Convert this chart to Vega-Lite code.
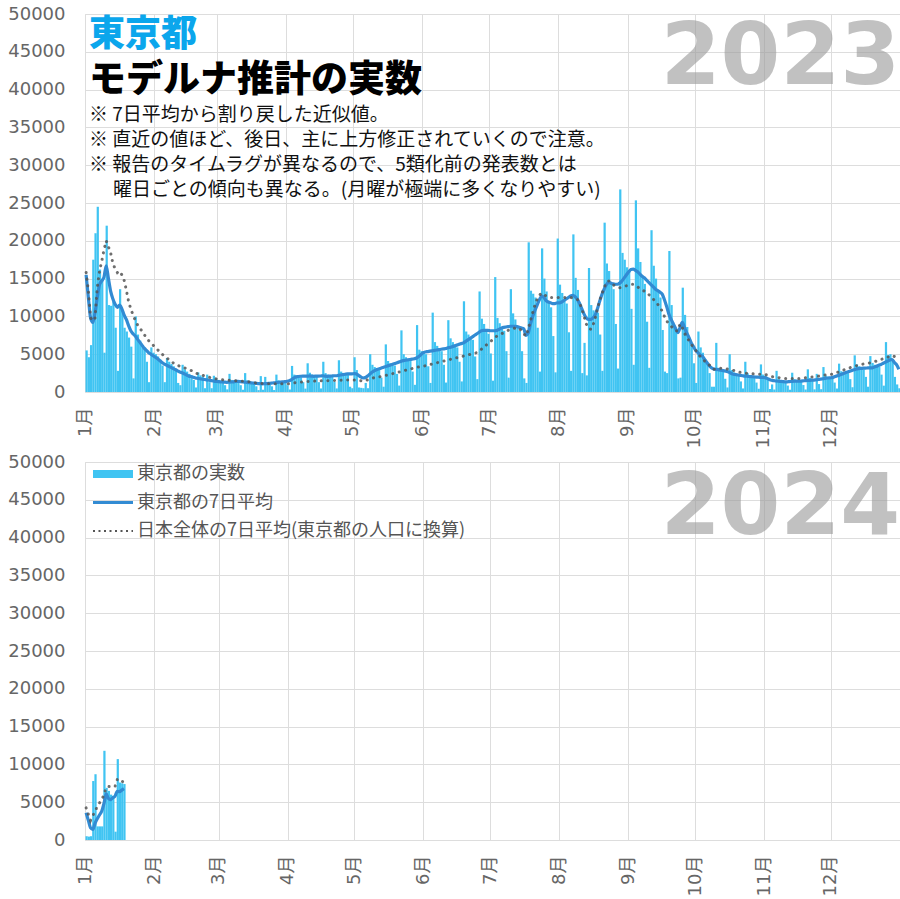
{
  "$schema": "https://vega.github.io/schema/vega-lite/v6.json",
  "background": "#ffffff",
  "padding": {"left": 7, "top": 4, "right": 1, "bottom": 0},
  "spacing": 3,
  "resolve": {"scale": {"x": "independent", "color": "independent"}, "legend": {"color": "independent"}},
  "config": {
    "font": "DejaVu Sans, Noto Sans CJK JP, sans-serif",
    "view": {"stroke": "#dddddd"},
    "axis": {"domain": false, "ticks": false, "gridColor": "#dddddd", "gridWidth": 1, "labelColor": "#666666", "title": null, "labelOverlap": false, "labelFont": "DejaVu Sans, Noto Sans CJK JP, sans-serif"},
    "axisY": {"labelFontSize": 18, "labelPadding": 20, "tickCount": 12},
    "axisX": {"labelFontSize": 18, "labelPadding": 15, "labelAngle": -90}
  },
  "vconcat": [
    {
      "width": 815,
      "height": 378,
      "data": {"values": [
        {"d":"2023-01-01","v":5500,"a":15500,"n":15800},
        {"d":"2023-01-02","v":4600,"a":12500,"n":13400},
        {"d":"2023-01-03","v":6200,"a":9800,"n":9800},
        {"d":"2023-01-04","v":17500,"a":9200,"n":9400},
        {"d":"2023-01-05","v":21000,"a":10500,"n":9800},
        {"d":"2023-01-06","v":24500,"a":12500,"n":13800},
        {"d":"2023-01-07","v":16200,"a":14200,"n":16000},
        {"d":"2023-01-08","v":14800,"a":14700,"n":17300},
        {"d":"2023-01-09","v":5200,"a":15200,"n":18800},
        {"d":"2023-01-10","v":22000,"a":16700,"n":20000},
        {"d":"2023-01-11","v":11500,"a":15000,"n":19200},
        {"d":"2023-01-12","v":11400,"a":13300,"n":18400},
        {"d":"2023-01-13","v":12000,"a":12300,"n":17000},
        {"d":"2023-01-14","v":8500,"a":11600,"n":16300},
        {"d":"2023-01-15","v":2800,"a":11200,"n":15800},
        {"d":"2023-01-16","v":13600,"a":11500,"n":16000},
        {"d":"2023-01-17","v":10700,"a":11000,"n":15500},
        {"d":"2023-01-18","v":8500,"a":10200,"n":14800},
        {"d":"2023-01-19","v":8000,"a":9600,"n":13500},
        {"d":"2023-01-20","v":7200,"a":8800,"n":12000},
        {"d":"2023-01-21","v":6000,"a":8100,"n":11000},
        {"d":"2023-01-22","v":1800,"a":7700,"n":10200},
        {"d":"2023-01-23","v":10000,"a":7400,"n":9500},
        {"d":"2023-01-24","v":7600,"a":7000,"n":8900},
        {"d":"2023-01-25","v":6800,"a":6600,"n":8400},
        {"d":"2023-01-26","v":6200,"a":6200,"n":8100},
        {"d":"2023-01-27","v":5600,"a":5800,"n":7600},
        {"d":"2023-01-28","v":4000,"a":5500,"n":7200},
        {"d":"2023-01-29","v":1300,"a":5200,"n":6800},
        {"d":"2023-01-30","v":5900,"a":5000,"n":6500},
        {"d":"2023-01-31","v":5200,"a":4800,"n":6200},
        {"d":"2023-02-01","v":5000,"a":4600,"n":5900},
        {"d":"2023-02-02","v":4700,"a":4400,"n":5600},
        {"d":"2023-02-03","v":4300,"a":4150,"n":5300},
        {"d":"2023-02-04","v":3500,"a":3900,"n":5000},
        {"d":"2023-02-05","v":1300,"a":3700,"n":4800},
        {"d":"2023-02-06","v":4500,"a":3550,"n":4550},
        {"d":"2023-02-07","v":4000,"a":3400,"n":4300},
        {"d":"2023-02-08","v":3700,"a":3250,"n":4100},
        {"d":"2023-02-09","v":3400,"a":3100,"n":3850},
        {"d":"2023-02-10","v":3100,"a":2950,"n":3650},
        {"d":"2023-02-11","v":1200,"a":2800,"n":3550},
        {"d":"2023-02-12","v":900,"a":2650,"n":3400},
        {"d":"2023-02-13","v":3600,"a":2550,"n":3300},
        {"d":"2023-02-14","v":3000,"a":2400,"n":3200},
        {"d":"2023-02-15","v":2700,"a":2250,"n":3100},
        {"d":"2023-02-16","v":2400,"a":2100,"n":3000},
        {"d":"2023-02-17","v":2200,"a":2050,"n":2850},
        {"d":"2023-02-18","v":1600,"a":1950,"n":2700},
        {"d":"2023-02-19","v":600,"a":1850,"n":2550},
        {"d":"2023-02-20","v":2600,"a":1800,"n":2400},
        {"d":"2023-02-21","v":2200,"a":1750,"n":2300},
        {"d":"2023-02-22","v":2000,"a":1700,"n":2200},
        {"d":"2023-02-23","v":500,"a":1650,"n":2150},
        {"d":"2023-02-24","v":2300,"a":1600,"n":2050},
        {"d":"2023-02-25","v":1300,"a":1550,"n":1950},
        {"d":"2023-02-26","v":500,"a":1500,"n":1900},
        {"d":"2023-02-27","v":2150,"a":1450,"n":1800},
        {"d":"2023-02-28","v":1800,"a":1400,"n":1750},
        {"d":"2023-03-01","v":1600,"a":1380,"n":1700},
        {"d":"2023-03-02","v":1450,"a":1350,"n":1650},
        {"d":"2023-03-03","v":1350,"a":1330,"n":1620},
        {"d":"2023-03-04","v":900,"a":1300,"n":1600},
        {"d":"2023-03-05","v":350,"a":1280,"n":1570},
        {"d":"2023-03-06","v":2400,"a":1300,"n":1550},
        {"d":"2023-03-07","v":1600,"a":1320,"n":1520},
        {"d":"2023-03-08","v":1500,"a":1350,"n":1500},
        {"d":"2023-03-09","v":1400,"a":1400,"n":1480},
        {"d":"2023-03-10","v":1350,"a":1400,"n":1460},
        {"d":"2023-03-11","v":900,"a":1380,"n":1440},
        {"d":"2023-03-12","v":300,"a":1350,"n":1420},
        {"d":"2023-03-13","v":2500,"a":1300,"n":1400},
        {"d":"2023-03-14","v":1550,"a":1280,"n":1380},
        {"d":"2023-03-15","v":1400,"a":1250,"n":1350},
        {"d":"2023-03-16","v":1250,"a":1200,"n":1300},
        {"d":"2023-03-17","v":1150,"a":1180,"n":1250},
        {"d":"2023-03-18","v":750,"a":1150,"n":1200},
        {"d":"2023-03-19","v":250,"a":1120,"n":1170},
        {"d":"2023-03-20","v":2100,"a":1100,"n":1150},
        {"d":"2023-03-21","v":300,"a":1080,"n":1130},
        {"d":"2023-03-22","v":2000,"a":1100,"n":1120},
        {"d":"2023-03-23","v":1200,"a":1120,"n":1110},
        {"d":"2023-03-24","v":1100,"a":1150,"n":1100},
        {"d":"2023-03-25","v":750,"a":1180,"n":1100},
        {"d":"2023-03-26","v":260,"a":1200,"n":1100},
        {"d":"2023-03-27","v":2300,"a":1250,"n":1100},
        {"d":"2023-03-28","v":1550,"a":1280,"n":1100},
        {"d":"2023-03-29","v":1450,"a":1300,"n":1100},
        {"d":"2023-03-30","v":1350,"a":1330,"n":1100},
        {"d":"2023-03-31","v":1300,"a":1370,"n":1100},
        {"d":"2023-04-01","v":900,"a":1420,"n":1100},
        {"d":"2023-04-02","v":330,"a":1500,"n":1100},
        {"d":"2023-04-03","v":3450,"a":1650,"n":1150},
        {"d":"2023-04-04","v":2300,"a":1850,"n":1200},
        {"d":"2023-04-05","v":2200,"a":2000,"n":1250},
        {"d":"2023-04-06","v":2050,"a":2050,"n":1280},
        {"d":"2023-04-07","v":1950,"a":2080,"n":1300},
        {"d":"2023-04-08","v":1300,"a":2100,"n":1330},
        {"d":"2023-04-09","v":450,"a":2100,"n":1360},
        {"d":"2023-04-10","v":3800,"a":2100,"n":1380},
        {"d":"2023-04-11","v":2550,"a":2120,"n":1400},
        {"d":"2023-04-12","v":2300,"a":2100,"n":1420},
        {"d":"2023-04-13","v":2100,"a":2080,"n":1440},
        {"d":"2023-04-14","v":2000,"a":2100,"n":1450},
        {"d":"2023-04-15","v":1300,"a":2100,"n":1460},
        {"d":"2023-04-16","v":470,"a":2120,"n":1470},
        {"d":"2023-04-17","v":4000,"a":2150,"n":1480},
        {"d":"2023-04-18","v":2500,"a":2100,"n":1490},
        {"d":"2023-04-19","v":2300,"a":2080,"n":1500},
        {"d":"2023-04-20","v":2100,"a":2100,"n":1510},
        {"d":"2023-04-21","v":2000,"a":2120,"n":1520},
        {"d":"2023-04-22","v":1350,"a":2150,"n":1530},
        {"d":"2023-04-23","v":470,"a":2150,"n":1540},
        {"d":"2023-04-24","v":4200,"a":2200,"n":1550},
        {"d":"2023-04-25","v":2700,"a":2250,"n":1560},
        {"d":"2023-04-26","v":2500,"a":2300,"n":1570},
        {"d":"2023-04-27","v":2350,"a":2350,"n":1580},
        {"d":"2023-04-28","v":2300,"a":2400,"n":1590},
        {"d":"2023-04-29","v":700,"a":2400,"n":1600},
        {"d":"2023-04-30","v":500,"a":2400,"n":1600},
        {"d":"2023-05-01","v":4600,"a":2420,"n":1600},
        {"d":"2023-05-02","v":2900,"a":2400,"n":1600},
        {"d":"2023-05-03","v":600,"a":2200,"n":1550},
        {"d":"2023-05-04","v":550,"a":2000,"n":1500},
        {"d":"2023-05-05","v":500,"a":1850,"n":1450},
        {"d":"2023-05-06","v":1200,"a":1900,"n":1500},
        {"d":"2023-05-07","v":500,"a":2100,"n":1600},
        {"d":"2023-05-08","v":5000,"a":2350,"n":1700},
        {"d":"2023-05-09","v":3600,"a":2600,"n":1800},
        {"d":"2023-05-10","v":3300,"a":2800,"n":1900},
        {"d":"2023-05-11","v":3000,"a":2950,"n":1950},
        {"d":"2023-05-12","v":2900,"a":3050,"n":2000},
        {"d":"2023-05-13","v":1900,"a":3150,"n":2050},
        {"d":"2023-05-14","v":700,"a":3250,"n":2100},
        {"d":"2023-05-15","v":6300,"a":3350,"n":2180},
        {"d":"2023-05-16","v":4100,"a":3450,"n":2250},
        {"d":"2023-05-17","v":3800,"a":3550,"n":2330},
        {"d":"2023-05-18","v":3600,"a":3650,"n":2400},
        {"d":"2023-05-19","v":3500,"a":3750,"n":2480},
        {"d":"2023-05-20","v":2400,"a":3850,"n":2550},
        {"d":"2023-05-21","v":850,"a":3950,"n":2630},
        {"d":"2023-05-22","v":8150,"a":4050,"n":2700},
        {"d":"2023-05-23","v":5000,"a":4150,"n":2800},
        {"d":"2023-05-24","v":4600,"a":4200,"n":2870},
        {"d":"2023-05-25","v":4250,"a":4250,"n":2950},
        {"d":"2023-05-26","v":4100,"a":4300,"n":3020},
        {"d":"2023-05-27","v":2700,"a":4350,"n":3100},
        {"d":"2023-05-28","v":950,"a":4400,"n":3170},
        {"d":"2023-05-29","v":8850,"a":4500,"n":3250},
        {"d":"2023-05-30","v":5600,"a":4700,"n":3320},
        {"d":"2023-05-31","v":5400,"a":4950,"n":3380},
        {"d":"2023-06-01","v":5200,"a":5200,"n":3400},
        {"d":"2023-06-02","v":5000,"a":5300,"n":3480},
        {"d":"2023-06-03","v":3400,"a":5350,"n":3550},
        {"d":"2023-06-04","v":1200,"a":5400,"n":3620},
        {"d":"2023-06-05","v":10500,"a":5450,"n":3700},
        {"d":"2023-06-06","v":6600,"a":5500,"n":3780},
        {"d":"2023-06-07","v":6100,"a":5550,"n":3850},
        {"d":"2023-06-08","v":5600,"a":5600,"n":3930},
        {"d":"2023-06-09","v":5400,"a":5650,"n":4000},
        {"d":"2023-06-10","v":3600,"a":5700,"n":4080},
        {"d":"2023-06-11","v":1250,"a":5750,"n":4150},
        {"d":"2023-06-12","v":9500,"a":5850,"n":4230},
        {"d":"2023-06-13","v":7100,"a":5900,"n":4300},
        {"d":"2023-06-14","v":6600,"a":6000,"n":4380},
        {"d":"2023-06-15","v":6100,"a":6100,"n":4450},
        {"d":"2023-06-16","v":5900,"a":6200,"n":4530},
        {"d":"2023-06-17","v":4000,"a":6300,"n":4600},
        {"d":"2023-06-18","v":1400,"a":6400,"n":4680},
        {"d":"2023-06-19","v":12000,"a":6500,"n":4750},
        {"d":"2023-06-20","v":8000,"a":6700,"n":4830},
        {"d":"2023-06-21","v":7600,"a":6900,"n":4900},
        {"d":"2023-06-22","v":7100,"a":7100,"n":4980},
        {"d":"2023-06-23","v":6900,"a":7300,"n":5050},
        {"d":"2023-06-24","v":4700,"a":7500,"n":5130},
        {"d":"2023-06-25","v":1700,"a":7700,"n":5200},
        {"d":"2023-06-26","v":13300,"a":7900,"n":5400},
        {"d":"2023-06-27","v":9700,"a":8100,"n":5650},
        {"d":"2023-06-28","v":9000,"a":8150,"n":5900},
        {"d":"2023-06-29","v":8150,"a":8150,"n":6150},
        {"d":"2023-06-30","v":7700,"a":8150,"n":6400},
        {"d":"2023-07-01","v":5100,"a":8100,"n":6650},
        {"d":"2023-07-02","v":1500,"a":8100,"n":6900},
        {"d":"2023-07-03","v":15200,"a":8100,"n":7150},
        {"d":"2023-07-04","v":9800,"a":8150,"n":7400},
        {"d":"2023-07-05","v":9100,"a":8300,"n":7550},
        {"d":"2023-07-06","v":8450,"a":8450,"n":7700},
        {"d":"2023-07-07","v":8100,"a":8550,"n":7850},
        {"d":"2023-07-08","v":5400,"a":8600,"n":8000},
        {"d":"2023-07-09","v":1900,"a":8650,"n":8150},
        {"d":"2023-07-10","v":13600,"a":8700,"n":8250},
        {"d":"2023-07-11","v":10400,"a":8700,"n":8350},
        {"d":"2023-07-12","v":9600,"a":8700,"n":8450},
        {"d":"2023-07-13","v":8650,"a":8650,"n":8500},
        {"d":"2023-07-14","v":8100,"a":8550,"n":8400},
        {"d":"2023-07-15","v":5400,"a":8450,"n":8100},
        {"d":"2023-07-16","v":1800,"a":8350,"n":7700},
        {"d":"2023-07-17","v":1200,"a":7500,"n":7400},
        {"d":"2023-07-18","v":19800,"a":7800,"n":8300},
        {"d":"2023-07-19","v":13400,"a":9000,"n":9400},
        {"d":"2023-07-20","v":13000,"a":10000,"n":10500},
        {"d":"2023-07-21","v":12500,"a":10800,"n":11500},
        {"d":"2023-07-22","v":8500,"a":11500,"n":12300},
        {"d":"2023-07-23","v":2700,"a":12200,"n":12800},
        {"d":"2023-07-24","v":19000,"a":12700,"n":13100},
        {"d":"2023-07-25","v":15000,"a":12500,"n":12900},
        {"d":"2023-07-26","v":13300,"a":12100,"n":12700},
        {"d":"2023-07-27","v":11900,"a":11900,"n":12600},
        {"d":"2023-07-28","v":11200,"a":11800,"n":12500},
        {"d":"2023-07-29","v":7400,"a":11700,"n":12500},
        {"d":"2023-07-30","v":2600,"a":11700,"n":12500},
        {"d":"2023-07-31","v":20300,"a":11800,"n":12500},
        {"d":"2023-08-01","v":14200,"a":11800,"n":12500},
        {"d":"2023-08-02","v":13100,"a":11900,"n":12500},
        {"d":"2023-08-03","v":12100,"a":12100,"n":12500},
        {"d":"2023-08-04","v":11700,"a":12300,"n":12500},
        {"d":"2023-08-05","v":7900,"a":12500,"n":12500},
        {"d":"2023-08-06","v":2800,"a":12700,"n":12500},
        {"d":"2023-08-07","v":20850,"a":12800,"n":12450},
        {"d":"2023-08-08","v":15100,"a":12600,"n":12350},
        {"d":"2023-08-09","v":13500,"a":12250,"n":12250},
        {"d":"2023-08-10","v":11700,"a":11700,"n":11800},
        {"d":"2023-08-11","v":2500,"a":11000,"n":11000},
        {"d":"2023-08-12","v":6500,"a":10300,"n":10000},
        {"d":"2023-08-13","v":2200,"a":9800,"n":9000},
        {"d":"2023-08-14","v":16400,"a":9600,"n":8400},
        {"d":"2023-08-15","v":11500,"a":9600,"n":8300},
        {"d":"2023-08-16","v":10800,"a":9800,"n":8800},
        {"d":"2023-08-17","v":10200,"a":10200,"n":9800},
        {"d":"2023-08-18","v":10500,"a":11000,"n":11000},
        {"d":"2023-08-19","v":7600,"a":12000,"n":12100},
        {"d":"2023-08-20","v":2800,"a":12900,"n":13000},
        {"d":"2023-08-21","v":22400,"a":13600,"n":13800},
        {"d":"2023-08-22","v":17000,"a":14200,"n":14500},
        {"d":"2023-08-23","v":16000,"a":14500,"n":14700},
        {"d":"2023-08-24","v":14400,"a":14400,"n":14500},
        {"d":"2023-08-25","v":13600,"a":14300,"n":14200},
        {"d":"2023-08-26","v":9000,"a":14250,"n":14000},
        {"d":"2023-08-27","v":3100,"a":14250,"n":13900},
        {"d":"2023-08-28","v":26800,"a":14400,"n":13800},
        {"d":"2023-08-29","v":18400,"a":14700,"n":13850},
        {"d":"2023-08-30","v":17500,"a":15100,"n":13950},
        {"d":"2023-08-31","v":16500,"a":15500,"n":14050},
        {"d":"2023-09-01","v":16000,"a":15900,"n":14150},
        {"d":"2023-09-02","v":11000,"a":16200,"n":14250},
        {"d":"2023-09-03","v":3600,"a":16250,"n":14250},
        {"d":"2023-09-04","v":25350,"a":16100,"n":14100},
        {"d":"2023-09-05","v":19000,"a":15900,"n":13900},
        {"d":"2023-09-06","v":17200,"a":15600,"n":13700},
        {"d":"2023-09-07","v":15300,"a":15300,"n":13500},
        {"d":"2023-09-08","v":14300,"a":15100,"n":13350},
        {"d":"2023-09-09","v":9300,"a":14800,"n":13200},
        {"d":"2023-09-10","v":3200,"a":14500,"n":12900},
        {"d":"2023-09-11","v":21400,"a":14200,"n":12600},
        {"d":"2023-09-12","v":16700,"a":13900,"n":12300},
        {"d":"2023-09-13","v":15000,"a":13600,"n":11900},
        {"d":"2023-09-14","v":13400,"a":13400,"n":11600},
        {"d":"2023-09-15","v":12500,"a":13200,"n":11200},
        {"d":"2023-09-16","v":8200,"a":12950,"n":10700},
        {"d":"2023-09-17","v":2700,"a":12200,"n":10000},
        {"d":"2023-09-18","v":2500,"a":11300,"n":9400},
        {"d":"2023-09-19","v":18650,"a":10300,"n":9000},
        {"d":"2023-09-20","v":11500,"a":9600,"n":8700},
        {"d":"2023-09-21","v":9000,"a":9000,"n":8400},
        {"d":"2023-09-22","v":8000,"a":8400,"n":8100},
        {"d":"2023-09-23","v":1800,"a":7850,"n":8100},
        {"d":"2023-09-24","v":1900,"a":8500,"n":9000},
        {"d":"2023-09-25","v":13800,"a":9200,"n":8500},
        {"d":"2023-09-26","v":10200,"a":8500,"n":7800},
        {"d":"2023-09-27","v":8600,"a":7800,"n":7200},
        {"d":"2023-09-28","v":7200,"a":7200,"n":6800},
        {"d":"2023-09-29","v":6200,"a":6500,"n":6300},
        {"d":"2023-09-30","v":3800,"a":6000,"n":5900},
        {"d":"2023-10-01","v":1200,"a":5500,"n":5500},
        {"d":"2023-10-02","v":8000,"a":5200,"n":5100},
        {"d":"2023-10-03","v":5900,"a":4900,"n":4700},
        {"d":"2023-10-04","v":5200,"a":4750,"n":4400},
        {"d":"2023-10-05","v":4300,"a":4300,"n":4100},
        {"d":"2023-10-06","v":3700,"a":3900,"n":3900},
        {"d":"2023-10-07","v":2500,"a":3500,"n":3600},
        {"d":"2023-10-08","v":700,"a":3200,"n":3300},
        {"d":"2023-10-09","v":700,"a":3050,"n":3000},
        {"d":"2023-10-10","v":6500,"a":3000,"n":3050},
        {"d":"2023-10-11","v":3200,"a":2950,"n":3100},
        {"d":"2023-10-12","v":2900,"a":2900,"n":3150},
        {"d":"2023-10-13","v":2700,"a":2850,"n":3150},
        {"d":"2023-10-14","v":1750,"a":2800,"n":3100},
        {"d":"2023-10-15","v":600,"a":2700,"n":3050},
        {"d":"2023-10-16","v":5000,"a":2600,"n":3000},
        {"d":"2023-10-17","v":2900,"a":2450,"n":2950},
        {"d":"2023-10-18","v":2600,"a":2350,"n":2850},
        {"d":"2023-10-19","v":2300,"a":2300,"n":2750},
        {"d":"2023-10-20","v":2150,"a":2250,"n":2650},
        {"d":"2023-10-21","v":1400,"a":2200,"n":2600},
        {"d":"2023-10-22","v":470,"a":2150,"n":2550},
        {"d":"2023-10-23","v":4000,"a":2100,"n":2500},
        {"d":"2023-10-24","v":2500,"a":2080,"n":2470},
        {"d":"2023-10-25","v":2250,"a":2050,"n":2440},
        {"d":"2023-10-26","v":2050,"a":2030,"n":2420},
        {"d":"2023-10-27","v":1900,"a":2000,"n":2400},
        {"d":"2023-10-28","v":1250,"a":1980,"n":2380},
        {"d":"2023-10-29","v":430,"a":1960,"n":2360},
        {"d":"2023-10-30","v":3650,"a":1940,"n":2340},
        {"d":"2023-10-31","v":2300,"a":1920,"n":2320},
        {"d":"2023-11-01","v":2100,"a":1900,"n":2300},
        {"d":"2023-11-02","v":1800,"a":1800,"n":2250},
        {"d":"2023-11-03","v":400,"a":1650,"n":2150},
        {"d":"2023-11-04","v":1000,"a":1550,"n":2050},
        {"d":"2023-11-05","v":330,"a":1500,"n":2000},
        {"d":"2023-11-06","v":2800,"a":1450,"n":1950},
        {"d":"2023-11-07","v":1700,"a":1420,"n":1900},
        {"d":"2023-11-08","v":1550,"a":1400,"n":1870},
        {"d":"2023-11-09","v":1400,"a":1380,"n":1840},
        {"d":"2023-11-10","v":1300,"a":1350,"n":1800},
        {"d":"2023-11-11","v":850,"a":1350,"n":1800},
        {"d":"2023-11-12","v":300,"a":1380,"n":1800},
        {"d":"2023-11-13","v":2550,"a":1400,"n":1800},
        {"d":"2023-11-14","v":1700,"a":1420,"n":1800},
        {"d":"2023-11-15","v":1570,"a":1430,"n":1800},
        {"d":"2023-11-16","v":1440,"a":1440,"n":1800},
        {"d":"2023-11-17","v":1380,"a":1450,"n":1800},
        {"d":"2023-11-18","v":920,"a":1470,"n":1830},
        {"d":"2023-11-19","v":330,"a":1500,"n":1870},
        {"d":"2023-11-20","v":3000,"a":1520,"n":1900},
        {"d":"2023-11-21","v":1860,"a":1550,"n":1940},
        {"d":"2023-11-22","v":1730,"a":1570,"n":1980},
        {"d":"2023-11-23","v":350,"a":1580,"n":2000},
        {"d":"2023-11-24","v":2400,"a":1620,"n":2050},
        {"d":"2023-11-25","v":1050,"a":1650,"n":2100},
        {"d":"2023-11-26","v":370,"a":1700,"n":2150},
        {"d":"2023-11-27","v":3300,"a":1750,"n":2200},
        {"d":"2023-11-28","v":2150,"a":1800,"n":2250},
        {"d":"2023-11-29","v":2000,"a":1850,"n":2280},
        {"d":"2023-11-30","v":1880,"a":1880,"n":2320},
        {"d":"2023-12-01","v":1800,"a":1900,"n":2350},
        {"d":"2023-12-02","v":1250,"a":2000,"n":2450},
        {"d":"2023-12-03","v":460,"a":2100,"n":2550},
        {"d":"2023-12-04","v":3750,"a":2200,"n":2650},
        {"d":"2023-12-05","v":2750,"a":2300,"n":2750},
        {"d":"2023-12-06","v":2650,"a":2420,"n":2880},
        {"d":"2023-12-07","v":2550,"a":2550,"n":3000},
        {"d":"2023-12-08","v":2500,"a":2650,"n":3100},
        {"d":"2023-12-09","v":1700,"a":2750,"n":3200},
        {"d":"2023-12-10","v":630,"a":2850,"n":3300},
        {"d":"2023-12-11","v":4850,"a":2950,"n":3400},
        {"d":"2023-12-12","v":3650,"a":3050,"n":3480},
        {"d":"2023-12-13","v":3400,"a":3100,"n":3550},
        {"d":"2023-12-14","v":3100,"a":3120,"n":3620},
        {"d":"2023-12-15","v":3000,"a":3150,"n":3700},
        {"d":"2023-12-16","v":2000,"a":3170,"n":3750},
        {"d":"2023-12-17","v":700,"a":3180,"n":3800},
        {"d":"2023-12-18","v":4750,"a":3190,"n":3850},
        {"d":"2023-12-19","v":3850,"a":3200,"n":3900},
        {"d":"2023-12-20","v":3600,"a":3300,"n":4000},
        {"d":"2023-12-21","v":3400,"a":3400,"n":4100},
        {"d":"2023-12-22","v":3400,"a":3550,"n":4200},
        {"d":"2023-12-23","v":2300,"a":3650,"n":4300},
        {"d":"2023-12-24","v":840,"a":3800,"n":4400},
        {"d":"2023-12-25","v":6600,"a":3950,"n":4450},
        {"d":"2023-12-26","v":4900,"a":4100,"n":4600},
        {"d":"2023-12-27","v":5000,"a":4250,"n":4750},
        {"d":"2023-12-28","v":4300,"a":4300,"n":4850},
        {"d":"2023-12-29","v":2000,"a":3900,"n":4700},
        {"d":"2023-12-30","v":1000,"a":3600,"n":4500},
        {"d":"2023-12-31","v":500,"a":3000,"n":4200}
      ]},
      "layer": [
        {
          "mark": {"type": "bar", "color": "#40c4f2", "binSpacing": 0},
          "encoding": {
            "x": {
              "field": "d", "type": "temporal", "timeUnit": "utcyearmonthdate",
              "scale": {"type": "utc", "nice": false, "domain": [{"year": 2023, "month": 1, "date": 1, "utc": true}, {"year": 2024, "month": 1, "date": 1, "utc": true}]},
              "axis": {
                "values": [
                  {"year": 2023, "month": 1, "date": 1, "utc": true}, {"year": 2023, "month": 2, "date": 1, "utc": true},
                  {"year": 2023, "month": 3, "date": 1, "utc": true}, {"year": 2023, "month": 4, "date": 1, "utc": true},
                  {"year": 2023, "month": 5, "date": 1, "utc": true}, {"year": 2023, "month": 6, "date": 1, "utc": true},
                  {"year": 2023, "month": 7, "date": 1, "utc": true}, {"year": 2023, "month": 8, "date": 1, "utc": true},
                  {"year": 2023, "month": 9, "date": 1, "utc": true}, {"year": 2023, "month": 10, "date": 1, "utc": true},
                  {"year": 2023, "month": 11, "date": 1, "utc": true}, {"year": 2023, "month": 12, "date": 1, "utc": true}
                ],
                "labelExpr": "(utcmonth(datum.value) + 1) + '月'"
              }
            },
            "y": {
              "field": "v", "type": "quantitative",
              "scale": {"domain": [0, 50000], "nice": false},
              "axis": {"values": [0, 5000, 10000, 15000, 20000, 25000, 30000, 35000, 40000, 45000, 50000], "tickCount": 12, "format": "d", "labelOverlap": false}
            }
          }
        },
        {
          "mark": {"type": "line", "color": "#328bd3", "strokeWidth": 3.2, "interpolate": "monotone"},
          "encoding": {
            "x": {"field": "d", "type": "temporal", "timeUnit": "utcyearmonthdate", "bandPosition": 0.5},
            "y": {"field": "a", "type": "quantitative"}
          }
        },
        {
          "mark": {"type": "line", "color": "#555555", "opacity": 0.85, "strokeWidth": 3, "strokeDash": [0.1, 6.5], "strokeCap": "round"},
          "encoding": {
            "x": {"field": "d", "type": "temporal", "timeUnit": "utcyearmonthdate", "bandPosition": 0.5},
            "y": {"field": "n", "type": "quantitative"}
          }
        },
        {
          "data": {"values": [{}]},
          "mark": {"type": "text", "text": "2023", "font": "DejaVu Sans", "fontSize": 86, "fontWeight": "bold", "color": "#999999", "opacity": 0.6, "align": "right", "baseline": "alphabetic"},
          "encoding": {
            "x": {"datum": {"year": 2024, "month": 1, "date": 1, "hours": 1, "utc": true}, "type": "temporal"},
            "y": {"datum": 40700, "type": "quantitative"}
          }
        },
        {
          "data": {"values": [{}]},
          "mark": {"type": "text", "text": "東京都", "font": "Noto Sans CJK JP", "fontSize": 36, "fontWeight": 900, "color": "#0ba6ec", "align": "left", "baseline": "alphabetic"},
          "encoding": {
            "x": {"datum": {"year": 2023, "month": 1, "date": 2, "hours": 19, "utc": true}, "type": "temporal"},
            "y": {"datum": 45770, "type": "quantitative"}
          }
        },
        {
          "data": {"values": [{}]},
          "mark": {"type": "text", "text": "モデルナ推計の実数", "font": "Noto Sans CJK JP", "fontSize": 37, "fontWeight": 900, "color": "#000000", "align": "left", "baseline": "alphabetic"},
          "encoding": {
            "x": {"datum": {"year": 2023, "month": 1, "date": 2, "hours": 19, "utc": true}, "type": "temporal"},
            "y": {"datum": 39620, "type": "quantitative"}
          }
        },
        {
          "data": {"values": [{}]},
          "mark": {
            "type": "text",
            "text": ["※ 7日平均から割り戻した近似値。", "※ 直近の値ほど、後日、主に上方修正されていくので注意。", "※ 報告のタイムラグが異なるので、5類化前の発表数とは"],
            "lineHeight": 25, "font": "Noto Sans CJK JP", "fontSize": 19, "color": "#111111", "align": "left", "baseline": "alphabetic"
          },
          "encoding": {
            "x": {"datum": {"year": 2023, "month": 1, "date": 2, "hours": 19, "utc": true}, "type": "temporal"},
            "y": {"datum": 35910, "type": "quantitative"}
          }
        },
        {
          "data": {"values": [{}]},
          "mark": {"type": "text", "text": "曜日ごとの傾向も異なる。(月曜が極端に多くなりやすい)", "font": "Noto Sans CJK JP", "fontSize": 19, "color": "#111111", "align": "left", "baseline": "alphabetic"},
          "encoding": {
            "x": {"datum": {"year": 2023, "month": 1, "date": 13, "hours": 13, "utc": true}, "type": "temporal"},
            "y": {"datum": 25990, "type": "quantitative"}
          }
        }
      ]
    },
    {
      "width": 815,
      "height": 378,
      "data": {"values": [
        {"d":"2024-01-01","v":500,"a":3600,"n":4250},
        {"d":"2024-01-02","v":450,"a":2600,"n":3400},
        {"d":"2024-01-03","v":500,"a":1600,"n":2600},
        {"d":"2024-01-04","v":7800,"a":1400,"n":3200},
        {"d":"2024-01-05","v":8700,"a":2200,"n":3800},
        {"d":"2024-01-06","v":1800,"a":2800,"n":4400},
        {"d":"2024-01-07","v":1800,"a":3300,"n":4900},
        {"d":"2024-01-08","v":1800,"a":3800,"n":5300},
        {"d":"2024-01-09","v":11800,"a":4800,"n":6000},
        {"d":"2024-01-10","v":6900,"a":6100,"n":6900},
        {"d":"2024-01-11","v":6500,"a":5500,"n":7100},
        {"d":"2024-01-12","v":6000,"a":5350,"n":7050},
        {"d":"2024-01-13","v":5800,"a":5600,"n":7000},
        {"d":"2024-01-14","v":1100,"a":5800,"n":7100},
        {"d":"2024-01-15","v":10700,"a":6450,"n":8000},
        {"d":"2024-01-16","v":7600,"a":6400,"n":8100},
        {"d":"2024-01-17","v":7500,"a":6600,"n":7800},
        {"d":"2024-01-18","v":7400,"a":6800,"n":7600}
      ]},
      "layer": [
        {
          "mark": {"type": "bar", "binSpacing": 0},
          "encoding": {
            "x": {
              "field": "d", "type": "temporal", "timeUnit": "utcyearmonthdate",
              "scale": {"type": "utc", "nice": false, "domain": [{"year": 2024, "month": 1, "date": 1, "utc": true}, {"year": 2025, "month": 1, "date": 1, "utc": true}]},
              "axis": {
                "values": [
                  {"year": 2024, "month": 1, "date": 1, "utc": true}, {"year": 2024, "month": 2, "date": 1, "utc": true},
                  {"year": 2024, "month": 3, "date": 1, "utc": true}, {"year": 2024, "month": 4, "date": 1, "utc": true},
                  {"year": 2024, "month": 5, "date": 1, "utc": true}, {"year": 2024, "month": 6, "date": 1, "utc": true},
                  {"year": 2024, "month": 7, "date": 1, "utc": true}, {"year": 2024, "month": 8, "date": 1, "utc": true},
                  {"year": 2024, "month": 9, "date": 1, "utc": true}, {"year": 2024, "month": 10, "date": 1, "utc": true},
                  {"year": 2024, "month": 11, "date": 1, "utc": true}, {"year": 2024, "month": 12, "date": 1, "utc": true}
                ],
                "labelExpr": "(utcmonth(datum.value) + 1) + '月'"
              }
            },
            "y": {
              "field": "v", "type": "quantitative",
              "scale": {"domain": [0, 50000], "nice": false},
              "axis": {"values": [0, 5000, 10000, 15000, 20000, 25000, 30000, 35000, 40000, 45000, 50000], "tickCount": 12, "format": "d", "labelOverlap": false}
            },
            "color": {
              "datum": "東京都の実数", "type": "nominal",
              "scale": {"domain": ["東京都の実数", "東京都の7日平均", "日本全体の7日平均(東京都の人口に換算)"], "range": ["#40c4f2", "#328bd3", "#555555"]},
              "legend": {
                "title": null, "orient": "top-left", "offset": 0, "padding": 3,
                "symbolSize": 400, "symbolOffset": 16, "labelOffset": 15, "rowPadding": 10.5,
                "labelFont": "Noto Sans CJK JP", "labelFontSize": 18, "labelColor": "#555555", "labelLimit": 600,
                "encode": {
                  "symbols": {
                    "update": {
                      "shape": {"signal": "datum.value == '東京都の実数' ? 'M-2,-0.4H2V0.4H-2Z' : 'M-2,0H2'"},
                      "fill": {"signal": "datum.value == '東京都の実数' ? '#40c4f2' : 'transparent'"},
                      "stroke": {"signal": "datum.value == '東京都の実数' ? '#40c4f2' : (datum.value == '東京都の7日平均' ? '#328bd3' : '#555555')"},
                      "strokeWidth": {"signal": "datum.value == '東京都の実数' ? 0 : (datum.value == '東京都の7日平均' ? 3 : 2)"},
                      "strokeDash": {"signal": "datum.value == '日本全体の7日平均(東京都の人口に換算)' ? [2, 3.5] : [60, 0]"},
                      "opacity": {"value": 1}
                    }
                  }
                }
              }
            }
          }
        },
        {
          "mark": {"type": "line", "strokeWidth": 3.2, "interpolate": "monotone"},
          "encoding": {
            "x": {"field": "d", "type": "temporal", "timeUnit": "utcyearmonthdate", "bandPosition": 0.5},
            "y": {"field": "a", "type": "quantitative"},
            "color": {"datum": "東京都の7日平均", "type": "nominal"}
          }
        },
        {
          "mark": {"type": "line", "opacity": 0.85, "strokeWidth": 3, "strokeDash": [0.1, 6.5], "strokeCap": "round"},
          "encoding": {
            "x": {"field": "d", "type": "temporal", "timeUnit": "utcyearmonthdate", "bandPosition": 0.5},
            "y": {"field": "n", "type": "quantitative"},
            "color": {"datum": "日本全体の7日平均(東京都の人口に換算)", "type": "nominal"}
          }
        },
        {
          "data": {"values": [{}]},
          "mark": {"type": "text", "text": "2024", "font": "DejaVu Sans", "fontSize": 86, "fontWeight": "bold", "color": "#999999", "opacity": 0.6, "align": "right", "baseline": "alphabetic"},
          "encoding": {
            "x": {"datum": {"year": 2025, "month": 1, "date": 1, "hours": 1, "utc": true}, "type": "temporal"},
            "y": {"datum": 40500, "type": "quantitative"}
          }
        }
      ]
    }
  ]
}
